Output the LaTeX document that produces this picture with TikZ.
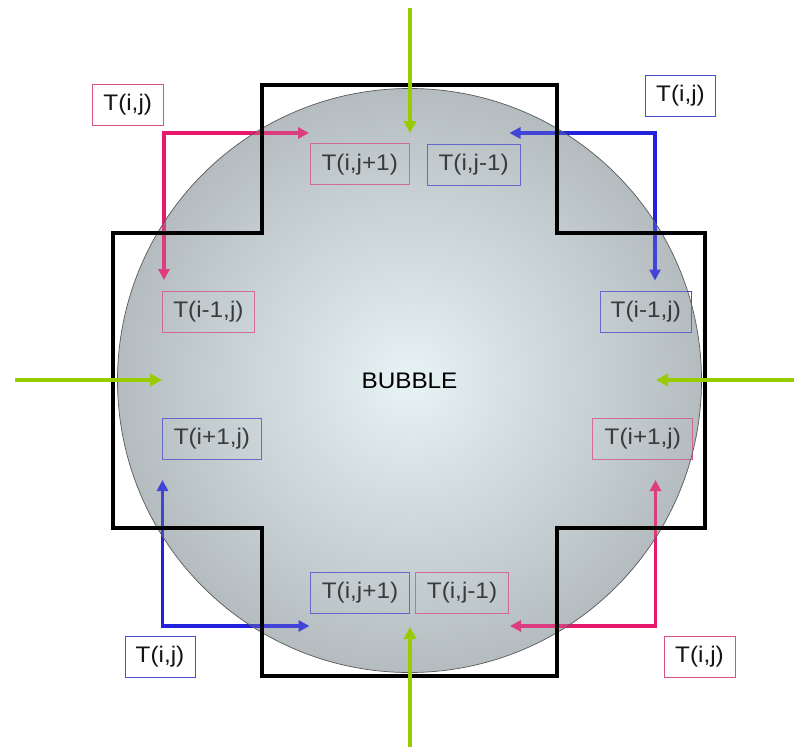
\documentclass[tikz,border=0pt]{standalone}
\usepackage{fontspec}
\setmainfont{Liberation Sans}[FakeStretch=1.08]
\usetikzlibrary{arrows.meta}
\definecolor{gArr}{RGB}{153,204,0}
\definecolor{pArr}{RGB}{232,24,108}
\definecolor{bArr}{RGB}{34,34,221}
\definecolor{pBox}{RGB}{216,80,138}
\definecolor{bBox}{RGB}{74,78,208}
\definecolor{cIn}{RGB}{232,243,245}
\definecolor{cOut}{RGB}{180,188,191}
\definecolor{txt}{RGB}{20,20,20}
\begin{document}
\begin{tikzpicture}[x=1pt,y=-1pt,
  tbox/.style={draw, line width=0.9pt, minimum height=41pt, inner sep=0pt,
    text=txt, font=\fontsize{22.5}{27}\selectfont},
  pinkbox/.style={tbox, draw=pBox},
  bluebox/.style={tbox, draw=bBox},
  pinkarr/.style={draw=pArr, line width=3.5pt, line join=miter, {Triangle[length=11pt,width=11pt]}-{Triangle[length=11pt,width=11pt]}},
  bluearr/.style={draw=bArr, line width=3.5pt, line join=miter, {Triangle[length=11pt,width=11pt]}-{Triangle[length=11pt,width=11pt]}},
  greenarr/.style={draw=gArr, line width=3.3pt, -{Triangle[length=12pt,width=12pt]}},
  crossline/.style={draw=black, line width=4pt, line join=miter}
]
\useasboundingbox (0,0) rectangle (794,747);
\fill[white] (0,0) rectangle (794,747);

% bubble base
\coordinate (C) at (409.5,380.5);
\shade[inner color=cIn, outer color=cOut] (C) circle[radius=292pt];

% corner coordinates of the L-shaped arrows
\coordinate (cTL) at (164,133);
\coordinate (cTR) at (655,133);
\coordinate (cBL) at (162.5,626);
\coordinate (cBR) at (655.5,626);
\coordinate (tTLh) at (309,133);
\coordinate (tTLv) at (164,280);
\coordinate (tTRh) at (509.5,133);
\coordinate (tTRv) at (655,280.5);
\coordinate (tBLh) at (309.5,626);
\coordinate (tBLv) at (162.5,480);
\coordinate (tBRh) at (510,626);
\coordinate (tBRv) at (655.5,480);

\draw[pinkarr] (tTLv) -- (cTL) -- (tTLh);
\draw[bluearr] (tTRv) -- (cTR) -- (tTRh);
\draw[bluearr] (tBLv) -- (cBL) -- (tBLh);
\draw[pinkarr] (tBRv) -- (cBR) -- (tBRh);

% label boxes
\node[pinkbox, minimum width=70.7pt] (ijTL) at (127.7,104.7) {T(i,j)};
\node[bluebox, minimum width=69.6pt] (ijTR) at (680.5,95.5) {T(i,j)};
\node[pinkbox, minimum width=98.6pt] (jp1T) at (359.7,164.4) {T(i,j+1)};
\node[bluebox, minimum width=92.7pt] (jm1T) at (473.7,164.5) {T(i,j-1)};
\node[pinkbox, minimum width=91.7pt] (im1L) at (208.4,312) {T(i-1,j)};
\node[bluebox, minimum width=91.7pt] (im1R) at (645.8,312) {T(i-1,j)};
\node[bluebox, minimum width=98.8pt] (ip1L) at (211.9,438.8) {T(i+1,j)};
\node[pinkbox, minimum width=99.8pt] (ip1R) at (642.8,438.8) {T(i+1,j)};
\node[bluebox, minimum width=98.6pt] (jp1B) at (360,592.5) {T(i,j+1)};
\node[pinkbox, minimum width=92.6pt] (jm1B) at (462,592.5) {T(i,j-1)};
\node[bluebox, minimum width=70pt] (ijBL) at (160,656.7) {T(i,j)};
\node[pinkbox, minimum width=71pt] (ijBR) at (699.5,656.7) {T(i,j)};

% translucent veil of the bubble over arrows and boxes
\shade[inner color=cIn, outer color=cOut, opacity=0.22] (C) circle[radius=292pt];
\draw[black!65, line width=0.7pt] (C) circle[radius=292pt];

% cross (control volume)
\draw[crossline] (261.5,85) -- (557,85) -- (557,232.7) -- (705,232.7) -- (705,528.3)
  -- (557,528.3) -- (557,676) -- (261.5,676) -- (261.5,528.3) -- (113.3,528.3)
  -- (113.3,232.7) -- (261.5,232.7) -- cycle;

% green arrows
\coordinate (gTs) at (410,8);
\coordinate (gTe) at (410,133);
\coordinate (gBs) at (410,747);
\coordinate (gBe) at (410,627);
\coordinate (gLs) at (15,380);
\coordinate (gLe) at (162,380);
\coordinate (gRs) at (794,380);
\coordinate (gRe) at (656,380);
\draw[greenarr] (gTs) -- (gTe);
\draw[greenarr] (gBs) -- (gBe);
\draw[greenarr] (gLs) -- (gLe);
\draw[greenarr] (gRs) -- (gRe);

\node[font=\fontsize{22.5}{27}\selectfont, text=black] (bub) at (409.5,381) {BUBBLE};
\end{tikzpicture}
\end{document}
